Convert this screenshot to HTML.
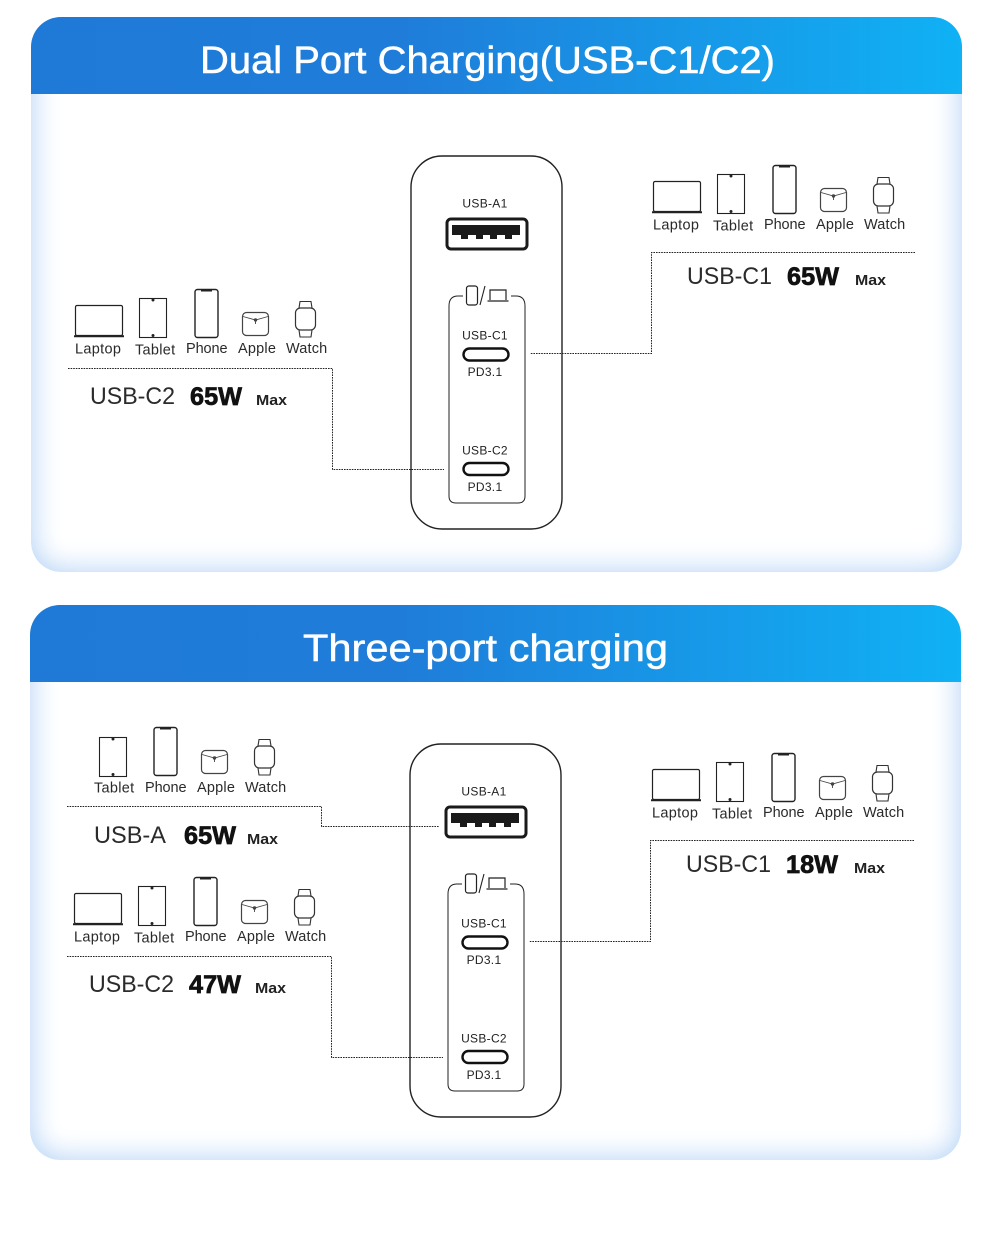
<!DOCTYPE html>
<html><head><meta charset="utf-8"><style>
html,body{margin:0;padding:0;background:#fff}
body{width:1000px;height:1237px;position:relative;overflow:hidden;font-family:"Liberation Sans",sans-serif}
.p{position:absolute;width:931px;height:555px;border-radius:30px;overflow:hidden;background:#fff}
.p:before{content:"";position:absolute;inset:0;border-radius:30px;box-shadow:inset 0 0 28px 2px #b5d3f6}
.h{position:absolute;left:0;top:0;width:931px;height:77px;background:linear-gradient(90deg,#1f79d7,#1f7dd9 40%,#10b1f5)}
svg{position:absolute;left:0;top:0}
text{font-family:"Liberation Sans",sans-serif;fill:#222}
.t{font-size:38px;fill:#fff;stroke:#fff;stroke-width:.5px}
.l{font-size:14.5px;fill:#2a2a2a}
.lp{letter-spacing:.33px}.tb{letter-spacing:.3px}.ph{letter-spacing:-.1px}.ap{letter-spacing:.2px}.wa{letter-spacing:.15px}
.u{font-size:24px;fill:#2b2b2b}
.w{font-size:25px;font-weight:700;fill:#111;stroke:#111;stroke-width:.7px}
.m{font-size:15px;font-weight:700;fill:#222}
.s{font-size:12px;fill:#222;text-anchor:middle;letter-spacing:.3px}
.d{fill:none;stroke:#222;stroke-width:1;stroke-dasharray:1.6 1}
</style></head><body>
<div class="p" style="left:31px;top:17px"><div class="h"></div></div>
<div class="p" style="left:30px;top:605px"><div class="h"></div></div>
<svg width="1000" height="1237" viewBox="0 0 1000 1237">
<defs>
<g id="laptop" fill="none" stroke="#222"><rect x="75.500" y="305.500" width="47" height="30" rx="1.500" stroke-width="1.200"/><path d="M74 336.200H124" stroke-width="2"/></g>
<g id="tablet" fill="none" stroke="#222"><rect x="139.500" y="298.500" width="27" height="39" stroke-width="1.100"/><circle cx="153" cy="300" r="1" fill="#222"/><circle cx="153" cy="335.500" r="1" fill="#222"/></g>
<g id="phone" fill="none" stroke="#222"><rect x="195" y="289.500" width="23" height="48" rx="2.500" stroke-width="1.400"/><path d="M201 290.500H212" stroke-width="2"/></g>
<g id="apple" fill="none" stroke="#444"><rect x="242.500" y="312.500" width="26" height="23" rx="4" stroke-width="1.200"/><path d="M243 316.500L255.500 320L268 316.500M255.500 320V324" stroke-width=".9"/><circle cx="255.500" cy="320" r="1.200" fill="#444"/></g>
<g id="watch" fill="none" stroke="#333"><rect x="295.500" y="308" width="20" height="22" rx="5" stroke-width="1.200"/><path d="M299 308L300 301.500H311L312 308M299 330L300 337H311L312 330" stroke-width="1.100"/></g>
<g id="charger">
<rect x="411" y="156" width="151" height="373" rx="31" fill="none" stroke="#222" stroke-width="1.400"/>
<rect x="447" y="219" width="80" height="30" rx="4" fill="#fff" stroke="#1a1a1a" stroke-width="3"/>
<path d="M452 225H520V235H512V239H505V235H497V239H490V235H483V239H476V235H468V239H461V235H452Z" fill="#1a1a1a"/>
<path d="M463 296H458Q449 296 449 306V496Q449 503 456 503H518Q525 503 525 496V306Q525 296 516 296H511" fill="none" stroke="#222" stroke-width="1"/>
<rect x="466.500" y="286" width="11" height="19" rx="2.500" fill="none" stroke="#222" stroke-width="1.200"/>
<path d="M480 305L485 286" stroke="#222" stroke-width="1.100"/>
<path d="M490 300V290H506V300M487.500 301H508.500" fill="none" stroke="#222" stroke-width="1.200"/>
<rect x="463.500" y="348.500" width="45" height="12" rx="6" fill="none" stroke="#111" stroke-width="2.400"/>
<rect x="463.500" y="463" width="45" height="12" rx="6" fill="none" stroke="#111" stroke-width="2.400"/>
</g>
</defs>

<!-- Panel 1 -->
<text class="t" x="200" y="73" textLength="575" lengthAdjust="spacingAndGlyphs">Dual Port Charging(USB-C1/C2)</text>
<use href="#charger"/>
<text class="s" x="485" y="207.500">USB-A1</text>
<text class="s" x="485" y="339.500">USB-C1</text>
<text class="s" x="485" y="376">PD3.1</text>
<text class="s" x="485" y="454.500">USB-C2</text>
<text class="s" x="485" y="491">PD3.1</text>

<use href="#laptop"/><use href="#tablet"/><use href="#phone"/><use href="#apple"/><use href="#watch"/>
<text class="l lp" x="75" y="353.500">Laptop</text><text class="l tb" x="135" y="354.500">Tablet</text><text class="l ph" x="186" y="353">Phone</text><text class="l ap" x="238" y="353">Apple</text><text class="l wa" x="286" y="353">Watch</text>
<path class="d" d="M68 368.500H332.500V469.500H444"/>
<text class="u" x="90" y="404" textLength="85" lengthAdjust="spacingAndGlyphs">USB-C2</text>
<text class="w" x="190" y="405" textLength="52" lengthAdjust="spacingAndGlyphs">65W</text>
<text class="m" x="256" y="405" textLength="31" lengthAdjust="spacingAndGlyphs">Max</text>

<g transform="translate(578,-124)"><use href="#laptop"/><use href="#tablet"/><use href="#phone"/><use href="#apple"/><use href="#watch"/></g>
<text class="l lp" x="653" y="229.500">Laptop</text><text class="l tb" x="713" y="230.500">Tablet</text><text class="l ph" x="764" y="229">Phone</text><text class="l ap" x="816" y="229">Apple</text><text class="l wa" x="864" y="229">Watch</text>
<path class="d" d="M915 252.500H651.500V353.500H530"/>
<text class="u" x="687" y="284" textLength="85" lengthAdjust="spacingAndGlyphs">USB-C1</text>
<text class="w" x="787" y="285" textLength="52" lengthAdjust="spacingAndGlyphs">65W</text>
<text class="m" x="855" y="285" textLength="31" lengthAdjust="spacingAndGlyphs">Max</text>

<!-- Panel 2 -->
<text class="t" x="303" y="661" textLength="365" lengthAdjust="spacingAndGlyphs">Three-port charging</text>
<g transform="translate(-1,588)"><use href="#charger"/></g>
<text class="s" x="484" y="795.500">USB-A1</text>
<text class="s" x="484" y="927.500">USB-C1</text>
<text class="s" x="484" y="964">PD3.1</text>
<text class="s" x="484" y="1042.500">USB-C2</text>
<text class="s" x="484" y="1079">PD3.1</text>

<g transform="translate(-40,439)"><use href="#tablet"/></g>
<g transform="translate(-41,438)"><use href="#phone"/><use href="#apple"/><use href="#watch"/></g>
<text class="l tb" x="94" y="792.500">Tablet</text><text class="l ph" x="145" y="792">Phone</text><text class="l ap" x="197" y="792">Apple</text><text class="l wa" x="245" y="792">Watch</text>
<path class="d" d="M67 806.500H321.500V826.500H439"/>
<text class="u" x="94" y="843" textLength="72" lengthAdjust="spacingAndGlyphs">USB-A</text>
<text class="w" x="184" y="844" textLength="52" lengthAdjust="spacingAndGlyphs">65W</text>
<text class="m" x="247" y="844" textLength="31" lengthAdjust="spacingAndGlyphs">Max</text>

<g transform="translate(-1,588)"><use href="#laptop"/><use href="#tablet"/><use href="#phone"/><use href="#apple"/><use href="#watch"/></g>
<text class="l lp" x="74" y="941.500">Laptop</text><text class="l tb" x="134" y="942.500">Tablet</text><text class="l ph" x="185" y="941">Phone</text><text class="l ap" x="237" y="941">Apple</text><text class="l wa" x="285" y="941">Watch</text>
<path class="d" d="M67 956.500H331.500V1057.500H443"/>
<text class="u" x="89" y="992" textLength="85" lengthAdjust="spacingAndGlyphs">USB-C2</text>
<text class="w" x="189" y="993" textLength="52" lengthAdjust="spacingAndGlyphs">47W</text>
<text class="m" x="255" y="993" textLength="31" lengthAdjust="spacingAndGlyphs">Max</text>

<g transform="translate(577,464)"><use href="#laptop"/><use href="#tablet"/><use href="#phone"/><use href="#apple"/><use href="#watch"/></g>
<text class="l lp" x="652" y="817.500">Laptop</text><text class="l tb" x="712" y="818.500">Tablet</text><text class="l ph" x="763" y="817">Phone</text><text class="l ap" x="815" y="817">Apple</text><text class="l wa" x="863" y="817">Watch</text>
<path class="d" d="M914 840.500H650.500V941.500H529"/>
<text class="u" x="686" y="872" textLength="85" lengthAdjust="spacingAndGlyphs">USB-C1</text>
<text class="w" x="786" y="873" textLength="52" lengthAdjust="spacingAndGlyphs">18W</text>
<text class="m" x="854" y="873" textLength="31" lengthAdjust="spacingAndGlyphs">Max</text>
</svg>
</body></html>
